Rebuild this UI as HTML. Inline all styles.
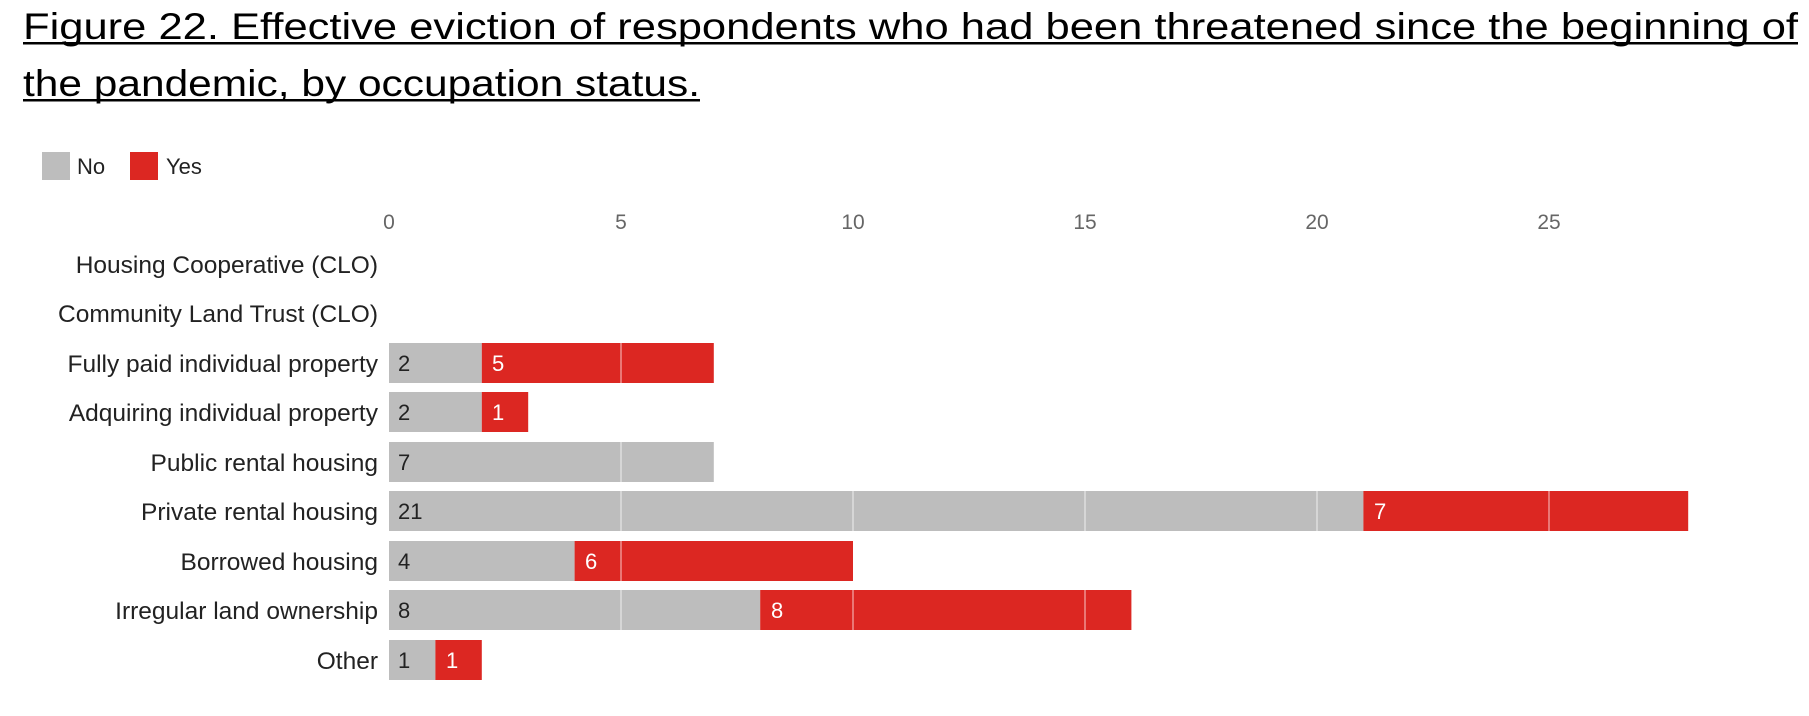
<!DOCTYPE html>
<html><head><meta charset="utf-8"><style>
html,body{margin:0;padding:0;background:#fff;}
svg{display:block;}
</style></head><body>
<svg width="1809" height="716" xmlns="http://www.w3.org/2000/svg" font-family="Liberation Sans, sans-serif">
<g font-size="37" fill="#000">
<text x="23" y="39" textLength="1775" lengthAdjust="spacingAndGlyphs">Figure 22. Effective eviction of respondents who had been threatened since the beginning of</text>
<text x="23" y="96" textLength="677" lengthAdjust="spacingAndGlyphs">the pandemic, by occupation status.</text>
</g>
<rect x="23" y="42" width="1775" height="2.5" fill="#000"/>
<rect x="23" y="99" width="677" height="2.5" fill="#000"/>
<rect x="42" y="152" width="28" height="28" fill="#bdbdbd"/>
<text x="77" y="174" font-size="22" fill="#222">No</text>
<rect x="130" y="152" width="28" height="28" fill="#dc2722"/>
<text x="166" y="174" font-size="22" fill="#222">Yes</text>
<g font-size="21" fill="#666" text-anchor="middle">
<text x="389" y="229">0</text><text x="621" y="229">5</text><text x="853" y="229">10</text>
<text x="1085" y="229">15</text><text x="1317" y="229">20</text><text x="1549" y="229">25</text>
</g>
<g font-size="24.5" fill="#222" text-anchor="end">
<text x="378" y="273">Housing Cooperative (CLO)</text>
<text x="378" y="322">Community Land Trust (CLO)</text>
<text x="378" y="372">Fully paid individual property</text>
<text x="378" y="421">Adquiring individual property</text>
<text x="378" y="471">Public rental housing</text>
<text x="378" y="520">Private rental housing</text>
<text x="378" y="570">Borrowed housing</text>
<text x="378" y="619">Irregular land ownership</text>
<text x="378" y="669">Other</text>
</g>
<g>
<rect x="389" y="343" width="92.8" height="40" fill="#bdbdbd"/><rect x="481.8" y="343" width="232" height="40" fill="#dc2722"/>
<rect x="389" y="392" width="92.8" height="40" fill="#bdbdbd"/><rect x="481.8" y="392" width="46.4" height="40" fill="#dc2722"/>
<rect x="389" y="442" width="324.8" height="40" fill="#bdbdbd"/>
<rect x="389" y="491" width="974.4" height="40" fill="#bdbdbd"/><rect x="1363.4" y="491" width="324.8" height="40" fill="#dc2722"/>
<rect x="389" y="541" width="185.6" height="40" fill="#bdbdbd"/><rect x="574.6" y="541" width="278.4" height="40" fill="#dc2722"/>
<rect x="389" y="590" width="371.2" height="40" fill="#bdbdbd"/><rect x="760.2" y="590" width="371.2" height="40" fill="#dc2722"/>
<rect x="389" y="640" width="46.4" height="40" fill="#bdbdbd"/><rect x="435.4" y="640" width="46.4" height="40" fill="#dc2722"/>
</g>
<g stroke="#fff" stroke-opacity="0.5" stroke-width="1.5">
<line x1="621" y1="343" x2="621" y2="383"/>
<line x1="621" y1="442" x2="621" y2="482"/>
<line x1="621" y1="491" x2="621" y2="531"/><line x1="853" y1="491" x2="853" y2="531"/><line x1="1085" y1="491" x2="1085" y2="531"/><line x1="1317" y1="491" x2="1317" y2="531"/><line x1="1549" y1="491" x2="1549" y2="531"/>
<line x1="621" y1="541" x2="621" y2="581"/>
<line x1="621" y1="590" x2="621" y2="630"/><line x1="853" y1="590" x2="853" y2="630"/><line x1="1085" y1="590" x2="1085" y2="630"/>
</g>
<g font-size="22" fill="#222">
<text x="398" y="371">2</text><text x="398" y="420">2</text><text x="398" y="470">7</text>
<text x="398" y="519">21</text><text x="398" y="569">4</text><text x="398" y="618">8</text><text x="398" y="668">1</text>
</g>
<g font-size="22" fill="#fff">
<text x="492" y="371">5</text><text x="492" y="420">1</text><text x="1374" y="519">7</text>
<text x="585" y="569">6</text><text x="771" y="618">8</text><text x="446" y="668">1</text>
</g>
</svg>
</body></html>
